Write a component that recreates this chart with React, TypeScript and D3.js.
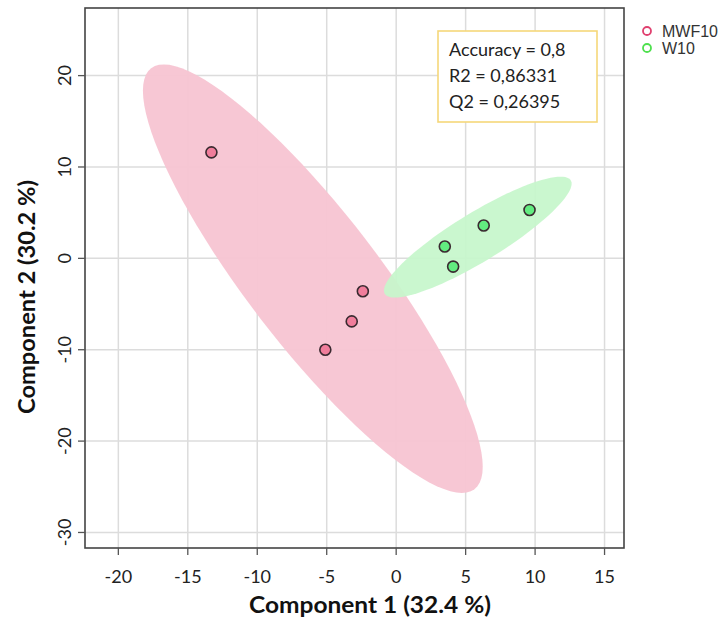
import React from "react";
import * as d3 from "d3";

const groups = ["MWF10", "W10"];
const groupFill = ["#f07d9b", "#62ec80"];
const groupLegend = ["#e0406f", "#4ee04e"];
const ellipseFill = ["#f7c4d2", "#c5f6cb"];

const compX_MWF10 = [-13.3, -2.4, -3.2, -5.1];
const compY_MWF10 = [11.6, -3.6, -6.9, -10.0];
const compX_W10 = [3.5, 4.1, 6.3, 9.6];
const compY_W10 = [1.3, -0.9, 3.6, 5.3];

const xTicks = [-20, -15, -10, -5, 0, 5, 10, 15];
const yTicks = [-30, -20, -10, 0, 10, 20];
const statsLines = ["Accuracy = 0,8", "R2 = 0,86331", "Q2 = 0,26395"];
const xTitle = "Component 1 (32.4 %)";
const yTitle = "Component 2 (30.2 %)";

const W = 723, H = 619;
const L = 85, R = 624, T = 8, B = 548;

const x = d3.scaleLinear().domain([-22.4, 16.4]).range([L, R]);
const y = d3.scaleLinear().domain([-31.7, 27.4]).range([B, T]);

function ellipsePath(xs: number[], ys: number[]) {
  const cx = d3.mean(xs)!, cy = d3.mean(ys)!;
  const sx = d3.deviation(xs)!, sy = d3.deviation(ys)!;
  let cov = 0;
  xs.forEach((v, i) => (cov += (v - cx) * (ys[i] - cy)));
  cov /= xs.length - 1;
  const r = cov / (sx * sy);
  const dd = Math.acos(r);
  const t = Math.sqrt(5.991464547);
  const pts: [number, number][] = d3.range(0, 101).map((i) => {
    const a = (i / 100) * 2 * Math.PI;
    return [x(t * sx * Math.cos(a + dd / 2) + cx), y(t * sy * Math.cos(a - dd / 2) + cy)];
  });
  return d3.line().curve(d3.curveLinearClosed)(pts)!;
}

const data = [
  { xs: compX_MWF10, ys: compY_MWF10 },
  { xs: compX_W10, ys: compY_W10 },
];

export default function App() {
  const font = "Lato, 'Open Sans', sans-serif";
  return (
    <svg width={W} height={H} style={{ position: "absolute", left: 0, top: 0, background: "#fff" }}>
      <rect x={0} y={0} width={W} height={H} fill="#fff" />
      {xTicks.map((t) => (
        <line key={"gx" + t} x1={x(t)} x2={x(t)} y1={T} y2={B} stroke="#dcdcdc" strokeWidth={1.5} />
      ))}
      {yTicks.map((t) => (
        <line key={"gy" + t} x1={L} x2={R} y1={y(t)} y2={y(t)} stroke="#dcdcdc" strokeWidth={1.5} />
      ))}
      {data.map((g, i) => (
        <path key={"e" + i} d={ellipsePath(g.xs, g.ys)} fill={ellipseFill[i]} opacity={i === 1 ? 0.92 : 0.95} />
      ))}
      {data.map((g, i) =>
        g.xs.map((v, j) => (
          <circle key={"p" + i + "_" + j} cx={x(v)} cy={y(g.ys[j])} r={5.5} fill={groupFill[i]} stroke="#3a2a30" strokeWidth={1.6} />
        ))
      )}
      <rect x={L} y={T} width={R - L} height={B - T} fill="none" stroke="#444" strokeWidth={1.6} />
      {xTicks.map((t) => (
        <g key={"tx" + t}>
          <line x1={x(t)} x2={x(t)} y1={B} y2={B + 7} stroke="#555" strokeWidth={1.3} />
          <text x={x(t)} y={583} textAnchor="middle" fontFamily={font} fontSize={18} fill="#222">{t}</text>
        </g>
      ))}
      {yTicks.map((t) => (
        <g key={"ty" + t}>
          <line x1={L - 7} x2={L} y1={y(t)} y2={y(t)} stroke="#555" strokeWidth={1.3} />
          <text transform={`translate(${71},${y(t)}) rotate(-90)`} textAnchor="middle" fontFamily={font} fontSize={18} fill="#222">{t}</text>
        </g>
      ))}
      <text x={370} y={613} textAnchor="middle" fontFamily={font} fontSize={23} fontWeight="bold" fill="#111" textLength={242} lengthAdjust="spacingAndGlyphs">{xTitle}</text>
      <text transform={`translate(${35},${297}) rotate(-90)`} textAnchor="middle" fontFamily={font} fontSize={23} fontWeight="bold" fill="#111" textLength={234} lengthAdjust="spacingAndGlyphs">{yTitle}</text>
      <rect x={438} y={31} width={159} height={91} fill="#fff" stroke="#f5d77a" strokeWidth={1.6} />
      {statsLines.map((s, i) => (
        <text key={"s" + i} x={449} y={56 + i * 26} fontFamily={font} fontSize={18} fill="#222">{s}</text>
      ))}
      {groups.map((g, i) => (
        <g key={"l" + i}>
          <circle cx={647} cy={31 + i * 17} r={4} fill="none" stroke={groupLegend[i]} strokeWidth={1.8} />
          <text x={662} y={37 + i * 17} fontFamily="'Liberation Sans', Arial, sans-serif" fontSize={16} fill="#333">{g}</text>
        </g>
      ))}
    </svg>
  );
}
